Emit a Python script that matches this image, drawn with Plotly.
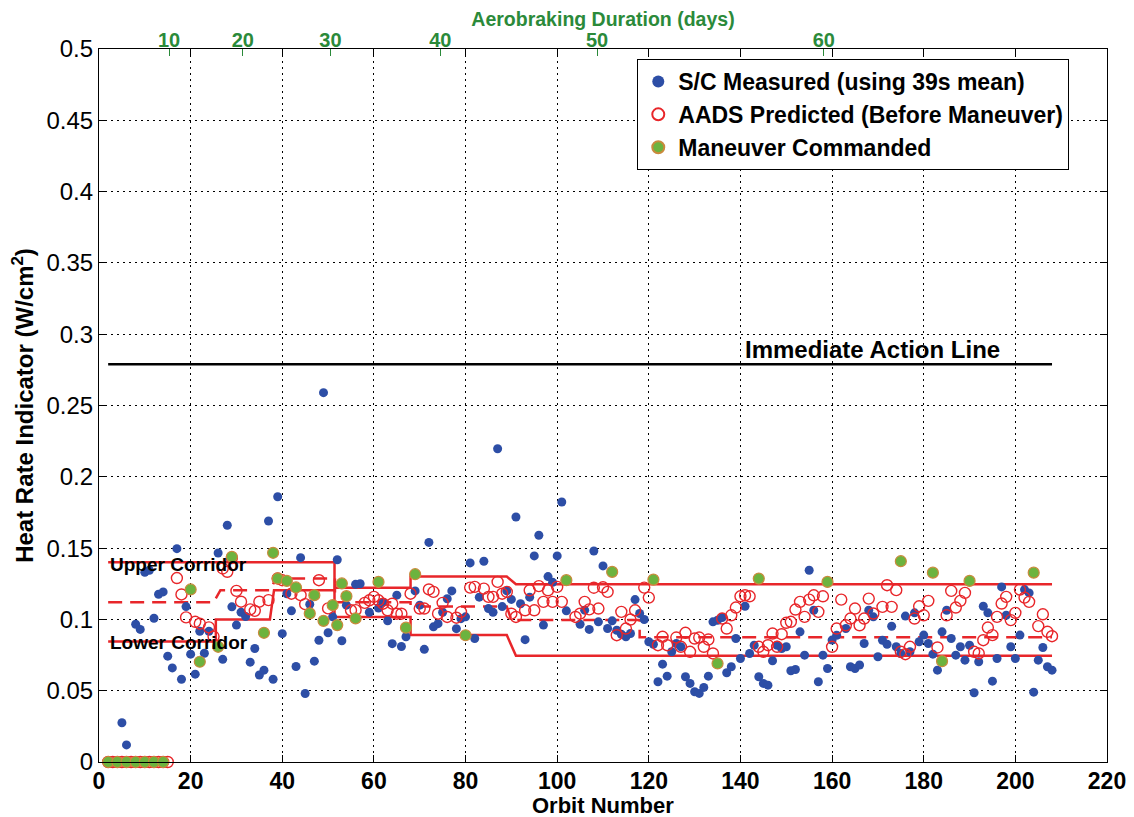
import plotly.graph_objects as go

# ---------------- data ----------------
meas_orbit = [2, 3, 5, 6, 8, 9, 10, 11, 12, 13,
              14, 15, 16, 17, 18, 19, 20, 21, 22, 23,
              24, 26, 27, 28, 29, 30, 31, 32, 33, 34,
              35, 36, 37, 38, 39, 40, 41, 42, 43, 44,
              45, 46, 47, 48, 49, 50, 51, 52, 53, 54,
              56, 57, 59, 61, 62, 63, 64, 65, 66, 67,
              69, 70, 71, 72, 73, 74, 75, 76, 77, 78,
              79, 80, 81, 82, 83, 84, 85, 86, 87, 88,
              89, 90, 91, 92, 93, 94, 95, 96, 97, 98,
              99, 100, 101, 102, 105, 106, 107, 108, 109, 110,
              111, 112, 113, 114, 115, 116, 117, 118, 119, 120,
              121, 122, 123, 124, 125, 126, 127, 128, 129, 130,
              131, 132, 133, 134, 135, 136, 137, 138, 139, 140,
              141, 142, 143, 144, 145, 146, 147, 148, 149, 150,
              151, 152, 153, 154, 155, 156, 157, 158, 159, 160,
              161, 163, 164, 165, 166, 167, 168, 169, 170, 171,
              172, 173, 174, 175, 176, 177, 178, 179, 180, 181,
              182, 183, 184, 185, 186, 187, 188, 189, 190, 191,
              192, 193, 194, 195, 196, 197, 198, 199, 200, 201,
              202, 203, 204, 205, 206, 207, 208]
meas_hri = [0.0, 0.0, 0.0275, 0.012, 0.0966, 0.093, 0.133, 0.1345, 0.1008, 0.1176,
            0.1193, 0.0742, 0.066, 0.1496, 0.058, 0.109, 0.0756, 0.0616, 0.0917, 0.0763,
            0.0917, 0.1466, 0.072, 0.166, 0.1088, 0.096, 0.105, 0.102, 0.070, 0.0796,
            0.061, 0.0644, 0.169, 0.058, 0.186, 0.090, 0.118, 0.106, 0.067, 0.1433,
            0.048, 0.1106, 0.0707, 0.0854, 0.259, 0.0906, 0.1018, 0.1418, 0.085, 0.110,
            0.1246, 0.125, 0.105, 0.108, 0.112, 0.099, 0.083, 0.117, 0.081, 0.0878,
            0.12, 0.11, 0.079, 0.154, 0.0948, 0.097, 0.105, 0.1145, 0.12, 0.0935,
            0.1005, 0.1018, 0.1396, 0.0866, 0.1156, 0.1408, 0.1076, 0.105, 0.2197, 0.109,
            0.12, 0.114, 0.1718, 0.111, 0.0858, 0.1156, 0.1445, 0.159, 0.096, 0.13,
            0.126, 0.1445, 0.1823, 0.106, 0.0966, 0.1065, 0.093, 0.148, 0.0983, 0.1375,
            0.0936, 0.099, 0.0924, 0.0896, 0.0878, 0.0901, 0.1139, 0.1041, 0.0999, 0.0843,
            0.0826, 0.0563, 0.0686, 0.0602, 0.0773, 0.0831, 0.0808, 0.0598, 0.0551, 0.0493,
            0.0481, 0.0523, 0.0602, 0.0983, 0.0994, 0.1013, 0.0626, 0.0668, 0.0866, 0.0726,
            0.1092, 0.0761, 0.0819, 0.0598, 0.0551, 0.0539, 0.0710, 0.0819, 0.0796, 0.0808,
            0.0640, 0.0649, 0.0913, 0.0749, 0.1345, 0.1064, 0.0563, 0.0749, 0.0656, 0.0855,
            0.0889, 0.0936, 0.0668, 0.0656, 0.068, 0.0831, 0.1064, 0.1018, 0.0738, 0.0854,
            0.0826, 0.0952, 0.0808, 0.0761, 0.1023, 0.0773, 0.1046, 0.0843, 0.089, 0.0831,
            0.0756, 0.0644, 0.0913, 0.1064, 0.0866, 0.0749, 0.0808, 0.0714, 0.0819, 0.0486,
            0.0703, 0.1092, 0.1046, 0.0567, 0.0726, 0.1228, 0.1029, 0.0808, 0.0726, 0.089,
            0.1209, 0.1186, 0.049, 0.0714, 0.0803, 0.0668, 0.0644]

pred_orbit = [2, 3, 4, 5, 6, 7, 8, 9, 10, 11,
              12, 13, 14, 15, 17, 18, 19, 21, 22, 24,
              25, 27, 28, 29, 30, 31, 33, 34, 35, 37,
              39, 40, 42, 44, 45, 48, 50, 55, 56, 58,
              59, 60, 61, 62, 63, 64, 65, 66, 68, 70,
              71, 72, 73, 74, 75, 76, 78, 79, 81, 82,
              84, 85, 86, 87, 88, 89, 90, 91, 93, 94,
              95, 96, 97, 98, 99, 100, 101, 104, 105, 106,
              107, 108, 109, 110, 111, 113, 114, 115, 116, 117,
              119, 120, 122, 123, 124, 126, 127, 128, 129, 130,
              131, 132, 133, 134, 136, 137, 138, 139, 140, 141,
              142, 144, 145, 146, 147, 148, 149, 150, 151, 152,
              153, 154, 155, 156, 157, 158, 160, 161, 162, 163,
              164, 165, 166, 167, 168, 169, 171, 172, 173, 174,
              175, 176, 177, 178, 179, 180, 181, 183, 185, 186,
              187, 188, 189, 191, 192, 193, 194, 195, 196, 197,
              198, 199, 200, 201, 202, 203, 205, 206, 207, 208]
pred_hri = [0.0, 0.0, 0.0, 0.0, 0.0, 0.0, 0.0, 0.0, 0.0, 0.0,
            0.0, 0.0, 0.0, 0.0, 0.129, 0.1175, 0.1014, 0.0983, 0.097, 0.0944,
            0.088, 0.1357, 0.1334, 0.143, 0.12, 0.1124, 0.107, 0.106, 0.1124, 0.1135,
            0.1287, 0.1275, 0.118, 0.117, 0.1107, 0.1275, 0.1077, 0.1064, 0.1065, 0.1116,
            0.1134, 0.1158, 0.1134, 0.111, 0.1064, 0.111, 0.104, 0.104, 0.118, 0.1076,
            0.1076, 0.121, 0.1193, 0.104, 0.1116, 0.1017, 0.1012, 0.1052, 0.1223, 0.1228,
            0.1216, 0.1158, 0.1158, 0.1263, 0.118, 0.1193, 0.104, 0.1017, 0.1064, 0.1204,
            0.1064, 0.1233, 0.1123, 0.1204, 0.1123, 0.1228, 0.1123, 0.1017, 0.104, 0.1123,
            0.107, 0.1222, 0.1076, 0.1225, 0.1193, 0.0889, 0.1053, 0.0936, 0.0999, 0.1064,
            0.1223, 0.1153, 0.0819, 0.0878, 0.0819, 0.0873, 0.0808, 0.0906, 0.0773, 0.0866,
            0.0873, 0.0808, 0.0859, 0.0761, 0.1006, 0.0936, 0.1029, 0.1083, 0.1162, 0.1169,
            0.1162, 0.0808, 0.0773, 0.0819, 0.0901, 0.0808, 0.0896, 0.0976, 0.0983, 0.1069,
            0.1123, 0.1018, 0.1139, 0.1169, 0.1053, 0.1162, 0.0808, 0.0936, 0.1139, 0.0959,
            0.1006, 0.1076, 0.0959, 0.1006, 0.1146, 0.1041, 0.1088, 0.1240, 0.1088, 0.1205,
            0.0773, 0.0756, 0.0808, 0.1006, 0.1092, 0.1029, 0.113, 0.0803, 0.1029, 0.12,
            0.1083, 0.113, 0.1186, 0.0773, 0.0761, 0.0854, 0.0943, 0.089, 0.1018, 0.1111,
            0.1158, 0.0995, 0.1046, 0.1209, 0.1153, 0.1123, 0.0953, 0.1036, 0.0913, 0.0882]

man_orbit = [2, 4, 6, 8, 10, 12, 14, 20, 22, 26,
             29, 36, 38, 39, 41, 43, 46, 47, 49, 51,
             52, 53, 54, 56, 61, 67, 69, 80, 102, 112,
             121, 135, 144, 159, 175, 182, 184, 190, 204]
man_hri = [0.0, 0.0, 0.0, 0.0, 0.0, 0.0, 0.0, 0.121, 0.0703, 0.0808,
           0.1439, 0.0906, 0.1467, 0.1287, 0.127, 0.1224, 0.1042, 0.117, 0.099, 0.110,
           0.096, 0.1252, 0.1163, 0.1007, 0.1263, 0.0942, 0.1317, 0.0889, 0.1275, 0.1333,
           0.1279, 0.0691, 0.1286, 0.1263, 0.1408, 0.1328, 0.0707, 0.1270, 0.1328]

upper_x = [2, 51.4, 51.4, 68, 68, 89, 91, 208]
upper_y = [0.14, 0.14, 0.1222, 0.1222, 0.13, 0.13, 0.1247, 0.1247]
lower_x = [2, 25.5, 25.5, 37.3, 38.2, 51.4, 51.4, 68, 68, 89, 91, 208]
lower_y = [0.0845, 0.0845, 0.1, 0.1, 0.1205, 0.1205, 0.1017, 0.1017, 0.089, 0.089, 0.0745, 0.0745]
target_x = [2, 25, 26.5, 37.5, 38.5, 51.5, 51.5, 68, 68, 89, 90, 118, 118, 208]
target_y = [0.112, 0.112, 0.1205, 0.1205, 0.1287, 0.1287, 0.112, 0.112, 0.109, 0.109, 0.0995, 0.0995, 0.0875, 0.0875]
action_x = [2, 208]
action_y = [0.279, 0.279]

day_labels = ["10", "20", "30", "40", "50", "60"]
day_orbits = [15.3, 31.4, 50.5, 74.5, 108.7, 158.2]

orbit_ticks = [0, 20, 40, 60, 80, 100, 120, 140, 160, 180, 200, 220]

# ---------------- figure ----------------
FONT = "Liberation Sans, Arial, Helvetica, sans-serif"
RED = "#e8262a"
BLUE = "#2d4ea6"
GREEN = "#6cb33e"
DKGREEN = "#2b8a3a"

fig = go.Figure()

line_common = dict(mode="lines", showlegend=False, hoverinfo="skip")
fig.add_trace(go.Scatter(x=upper_x, y=upper_y, line=dict(color=RED, width=2.5), **line_common))
fig.add_trace(go.Scatter(x=lower_x, y=lower_y, line=dict(color=RED, width=2.5), **line_common))
fig.add_trace(go.Scatter(x=target_x, y=target_y, line=dict(color=RED, width=2.5, dash="14px,8px"), **line_common))
fig.add_trace(go.Scatter(x=action_x, y=action_y, line=dict(color="black", width=2.5), **line_common))

fig.add_trace(go.Scatter(
    x=meas_orbit, y=meas_hri, mode="markers", name="<b>S/C Measured (using 39s mean)</b>",
    marker=dict(color=BLUE, size=9, line=dict(width=0)), cliponaxis=False))
fig.add_trace(go.Scatter(
    x=pred_orbit, y=pred_hri, mode="markers", name="<b>AADS Predicted (Before Maneuver)</b>",
    marker=dict(symbol="circle-open", color=RED, size=11, line=dict(width=1.4)), cliponaxis=False))
fig.add_trace(go.Scatter(
    x=man_orbit, y=man_hri, mode="markers", name="<b>Maneuver Commanded</b>",
    marker=dict(color=GREEN, size=11, line=dict(color="#c98a3c", width=1.2)), cliponaxis=False))

# invisible trace carrying the top (days) axis
fig.add_trace(go.Scatter(x=[0], y=[0], xaxis="x2", mode="markers",
                         marker=dict(opacity=0), showlegend=False, hoverinfo="skip"))

fig.add_annotation(x=2, y=0.1385, xref="x", yref="y", text="<b>Upper Corridor</b>",
                   showarrow=False, xanchor="left", yanchor="middle",
                   font=dict(family=FONT, size=19, color="black"))
fig.add_annotation(x=2, y=0.0835, xref="x", yref="y", text="<b>Lower Corridor</b>",
                   showarrow=False, xanchor="left", yanchor="middle",
                   font=dict(family=FONT, size=19, color="black"))
fig.add_annotation(x=168.8, y=0.289, xref="x", yref="y", text="<b>Immediate Action Line</b>",
                   showarrow=False, xanchor="center", yanchor="middle",
                   font=dict(family=FONT, size=24, color="black"))
# x-axis title, placed as tight under the tick labels as in the original
fig.add_annotation(x=0.5, y=-0.0605, xref="paper", yref="paper", text="<b>Orbit Number</b>",
                   showarrow=False, xanchor="center", yanchor="middle",
                   font=dict(family=FONT, size=22, color="black"))

tick_font = dict(family=FONT, size=23, color="black")

# the page adds an 8px body margin, so the margins are compensated for it
fig.update_layout(
    width=1134, height=817,
    margin=dict(l=91, r=35, t=41, b=63),
    paper_bgcolor="white", plot_bgcolor="white",
    font=dict(family=FONT, color="black"),
    xaxis=dict(
        range=[0, 220], tickvals=orbit_ticks,
        ticktext=["<b>%d</b>" % v for v in orbit_ticks],
        tickfont=tick_font, ticks="inside", ticklen=7, tickcolor="black",
        ticklabelstandoff=-2,
        showline=True, linecolor="black", linewidth=1.2, mirror="ticks",
        showgrid=True, gridcolor="black", griddash="2px,4px", gridwidth=1.2,
        zeroline=False, automargin=False,
    ),
    xaxis2=dict(
        overlaying="x", side="top", range=[0, 220],
        tickvals=day_orbits, ticktext=["<b>%s</b>" % t for t in day_labels],
        tickfont=dict(family=FONT, size=20, color=DKGREEN),
        ticks="inside", ticklen=7, tickcolor=DKGREEN, ticklabelstandoff=-3,
        showgrid=False, zeroline=False, showline=False, automargin=False,
        title=dict(text="<b>Aerobraking Duration (days)</b>",
                   font=dict(family=FONT, size=19.5, color=DKGREEN), standoff=0),
    ),
    yaxis=dict(
        range=[0, 0.5], dtick=0.05, tick0=0,
        tickfont=dict(family=FONT, size=24, color="black"),
        ticks="inside", ticklen=7, tickcolor="black",
        showline=True, linecolor="black", linewidth=1.2, mirror="ticks",
        showgrid=True, gridcolor="black", griddash="2px,4px", gridwidth=1.2,
        zeroline=False, automargin=False,
        title=dict(text="<b>Heat Rate Indicator (W/cm<sup>2</sup>)</b>",
                   font=dict(family=FONT, size=24, color="black"), standoff=6),
    ),
    legend=dict(
        x=0.534, y=0.986, xanchor="left", yanchor="top",
        bgcolor="white", bordercolor="black", borderwidth=1,
        font=dict(family=FONT, size=23, color="black"),
        itemsizing="constant", tracegroupgap=0,
    ),
)

fig.write_html("out.html")
